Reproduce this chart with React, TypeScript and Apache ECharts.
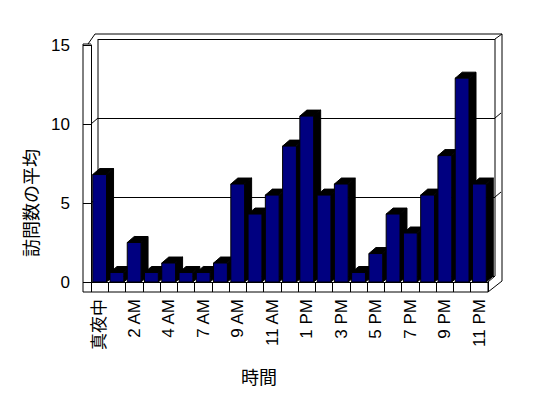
import React, { useEffect, useRef } from "react";
import * as echarts from "echarts";

const CATEGORIES = [
  "真夜中", "1 AM", "2 AM", "3 AM", "4 AM", "5 AM", "7 AM", "8 AM", "9 AM", "10 AM", "11 AM", "12 PM",
  "1 PM", "2 PM", "3 PM", "4 PM", "5 PM", "6 PM", "7 PM", "8 PM", "9 PM", "10 PM", "11 PM",
];
const VISITS = [6.8, 0.6, 2.5, 0.6, 1.2, 0.6, 0.6, 1.2, 6.2, 4.3, 5.5, 8.6, 10.5, 5.5, 6.2, 0.6, 1.8, 4.3, 3.1, 5.5, 8.0, 12.9, 6.2];
const Y_TICKS = [0, 5, 10, 15];
const Y_TITLE = "訪問数の平均";
const X_TITLE = "時間";

const FONT = "'Liberation Sans', 'Noto Sans CJK JP', sans-serif";
const FL = 91, FT = 45, FR = 488, FB = 282;
const DX = 7, DY = -6;

export default function App() {
  const ref = useRef<HTMLDivElement>(null);
  useEffect(() => {
    if (!ref.current) return;
    const chart = echarts.init(ref.current, null, { renderer: "svg" });
    const yMin = Y_TICKS[0];
    const yMax = Y_TICKS[Y_TICKS.length - 1];
    const yInt = Y_TICKS[1] - Y_TICKS[0];
    const option: any = {
      animation: false,
      backgroundColor: "#ffffff",
      grid: [
        { left: FL, top: FT, width: FR - FL, height: FB - FT },
        { left: FL + DX, top: FT + DY, width: FR - FL, height: FB - FT },
      ],
      xAxis: [
        {
          type: "category",
          gridIndex: 0,
          data: CATEGORIES,
          boundaryGap: true,
          axisLine: { show: true, lineStyle: { color: "#000", width: 1 } },
          axisTick: { show: true, interval: 0, length: 10, lineStyle: { color: "#000" } },
          axisLabel: {
            interval: 1,
            rotate: 90,
            margin: 17,
            color: "#000",
            fontSize: 17,
            fontFamily: FONT,
          },
          splitLine: { show: false },
        },
        {
          type: "category",
          gridIndex: 1,
          data: CATEGORIES,
          show: false,
        },
      ],
      yAxis: [
        {
          type: "value",
          gridIndex: 0,
          min: yMin,
          max: yMax,
          interval: yInt,
          axisLine: { show: true, lineStyle: { color: "#000", width: 1 } },
          axisTick: { show: true, length: 8, lineStyle: { color: "#000" } },
          axisLabel: { margin: 21, color: "#000", fontSize: 17, fontFamily: FONT },
          splitLine: { show: false },
        },
        {
          type: "value",
          gridIndex: 1,
          min: yMin,
          max: yMax,
          interval: yInt,
          axisLine: { show: false },
          axisTick: { show: false },
          axisLabel: { show: false },
          splitLine: { show: true, lineStyle: { color: "#000", width: 1 } },
        },
      ],
      series: [
        {
          type: "custom",
          xAxisIndex: 0,
          yAxisIndex: 0,
          data: VISITS.map((v, i) => [i, v]),
          z: 5,
          renderItem: (params: any, api: any) => {
            const idx = api.value(0);
            const v = api.value(1);
            const top = api.coord([idx, v]);
            const base = api.coord([idx, 0]);
            const band = api.size([1, 0])[0];
            const w = band * 0.8;
            const l = top[0] - w / 2;
            const r = top[0] + w / 2;
            const t = top[1];
            const b = base[1];
            return {
              type: "group",
              children: [
                {
                  type: "polygon",
                  shape: { points: [[r, b], [r, t], [r + DX, t + DY], [r + DX, b + DY]] },
                  style: { fill: "#000", stroke: "#000", lineWidth: 1 },
                },
                {
                  type: "polygon",
                  shape: { points: [[l, t], [l + DX, t + DY], [r + DX, t + DY], [r, t]] },
                  style: { fill: "#000", stroke: "#000", lineWidth: 1 },
                },
                {
                  type: "rect",
                  shape: { x: l, y: t, width: w, height: b - t },
                  style: { fill: "#000080", stroke: "#000", lineWidth: 1 },
                },
              ],
            };
          },
        },
      ],
    };
    chart.setOption(option);

    const line = (pts: number[][]) => ({
      type: "polyline",
      shape: { points: pts },
      style: { stroke: "#000", lineWidth: 1, fill: null },
      z: 1,
    });
    const g: any[] = [];
    // outer frame
    g.push(line([[FL - 8, FB + 10], [FL - 8, FT - 1], [FL, FT - 1]]));
    g.push(line([[FL - 3, FT - 1], [FL + 4, FT - 11], [FR + 14, FT - 11], [FR + 14, FB - 1], [FR, FB + 10], [FL - 8, FB + 10]]));
    g.push(line([[FR, FB], [FR, FB + 10]]));
    g.push(line([[FR, FB], [FR + DX, FB + DY]]));
    // back wall edges
    g.push(line([[FL + DX, FT + DY], [FL + DX, FB + DY]]));
    g.push(line([[FR + DX, FT + DY], [FR + DX, FB + DY]]));
    g.push(line([[FR + DX, FT + DY], [FR + 14, FT - 11]]));
    // side wall tick diagonals
    Y_TICKS.forEach((v) => {
      if (v === yMin || v === yMax) return;
      const py = chart.convertToPixel({ yAxisIndex: 0 }, v) as number;
      g.push(line([[FL, py], [FL + DX, py + DY]]));
      g.push(line([[FR + DX, py + DY], [FR + 13, py + DY - 5]]));
    });
    g.push({
      type: "text",
      x: 32,
      y: 203,
      rotation: Math.PI / 2,
      style: { text: Y_TITLE, font: `18px ${FONT}`, fill: "#000", align: "center", verticalAlign: "middle" },
    });
    g.push({
      type: "text",
      x: 259,
      y: 378,
      style: { text: X_TITLE, font: `18px ${FONT}`, fill: "#000", align: "center", verticalAlign: "middle" },
    });
    chart.setOption({ graphic: g });
    return () => chart.dispose();
  }, []);
  return (
    <div
      ref={ref}
      style={{ position: "fixed", left: 0, top: 0, width: 548, height: 398, background: "#fff" }}
    />
  );
}
